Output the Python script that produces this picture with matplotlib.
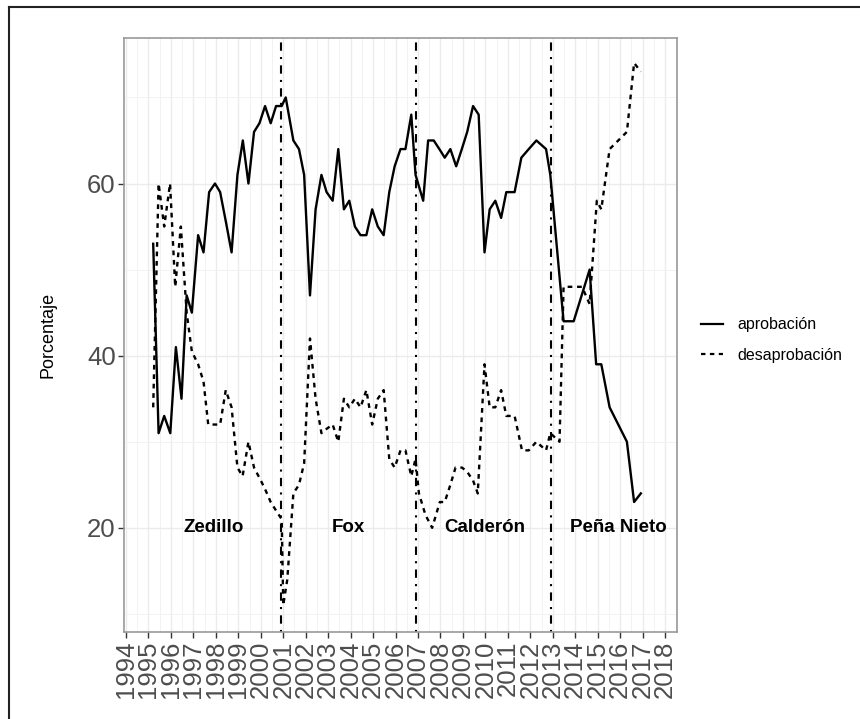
import numpy as np
import matplotlib.pyplot as plt
from matplotlib.lines import Line2D

plt.rcParams['font.family'] = ['Liberation Sans', 'DejaVu Sans']

# fechas en años decimales
fecha_apr = [1995.21, 1995.45, 1995.70, 1995.97, 1996.22, 1996.47, 1996.70, 1996.93,
             1997.21, 1997.45, 1997.70, 1997.96, 1998.19, 1998.45, 1998.70, 1998.96,
             1999.20, 1999.45, 1999.70, 1999.94, 2000.19, 2000.44, 2000.68, 2000.93,
             2001.11, 2001.45, 2001.70, 2001.93, 2002.19, 2002.44, 2002.70, 2002.93,
             2003.20, 2003.45, 2003.70, 2003.94, 2004.19, 2004.44, 2004.70, 2004.96,
             2005.21, 2005.47, 2005.72, 2005.96, 2006.22, 2006.44, 2006.70, 2006.89,
             2007.23, 2007.45, 2007.70, 2007.95, 2008.19, 2008.44, 2008.70, 2008.95,
             2009.19, 2009.45, 2009.70, 2009.96, 2010.19, 2010.44, 2010.70, 2010.93,
             2011.30, 2011.60, 2011.93, 2012.27, 2012.70, 2012.89, 2013.48, 2013.93,
             2014.64, 2014.93, 2015.16, 2015.53, 2016.30, 2016.62, 2016.92]
aprobacion = [53, 31, 33, 31, 41, 35, 47, 45,
              54, 52, 59, 60, 59, 55.5, 52, 61,
              65, 60, 66, 67, 69, 67, 69, 69,
              70, 65, 64, 61, 47, 57, 61, 59,
              58, 64, 57, 58, 55, 54, 54, 57,
              55, 54, 59, 62, 64, 64, 68, 61,
              58, 65, 65, 64, 63, 64, 62, 64,
              66, 69, 68, 52, 57, 58, 56, 59,
              59, 63, 64, 65, 64, 61, 44, 44,
              50, 39, 39, 34, 30, 23, 24]

fecha_des = [1995.21, 1995.45, 1995.70, 1995.96, 1996.19, 1996.44, 1996.70, 1996.93,
             1997.21, 1997.45, 1997.66, 1997.93, 1998.19, 1998.44, 1998.70, 1998.96,
             1999.19, 1999.45, 1999.70, 2000.00, 2000.19, 2000.44, 2000.68, 2000.93,
             2001.00, 2001.18, 2001.45, 2001.70, 2001.93, 2002.19, 2002.44, 2002.70,
             2002.93, 2003.20, 2003.45, 2003.70, 2003.94, 2004.19, 2004.44, 2004.70,
             2004.96, 2005.21, 2005.47, 2005.72, 2005.96, 2006.22, 2006.44, 2006.70,
             2006.89, 2007.04, 2007.33, 2007.63, 2007.97, 2008.19, 2008.44, 2008.67,
             2008.96, 2009.19, 2009.45, 2009.66, 2009.96, 2010.19, 2010.44, 2010.70,
             2010.93, 2011.30, 2011.63, 2011.93, 2012.27, 2012.70, 2012.89, 2013.30,
             2013.48, 2013.93, 2014.30, 2014.64, 2014.96, 2015.16, 2015.53, 2016.30,
             2016.62, 2016.92]
desaprobacion = [34, 60, 55, 60, 48, 55, 45, 40.5,
                 39, 37, 32, 32, 32, 36, 34, 27,
                 26, 30, 27, 25.5, 24.5, 23, 22, 21,
                 11, 14, 24, 25, 27.5, 42, 35, 31,
                 31.5, 32, 30, 35, 34, 35, 34, 36,
                 32, 35, 36, 28, 27, 29, 29, 26,
                 28, 24, 21.5, 20, 23, 23, 25, 27,
                 27, 26.5, 25.5, 24, 39, 34, 34, 36,
                 33, 33, 29, 29, 30, 29, 31, 30,
                 48, 48, 48, 46, 58, 57, 64, 66,
                 74, 73]

cambios = [2000.92, 2006.92, 2012.92]
presidentes = ['Zedillo', 'Fox', 'Calderón', 'Peña Nieto']
pos_presidentes = [1997.9, 2003.9, 2009.95, 2015.9]
anios = list(range(1994, 2019))

fig = plt.figure(figsize=(8.6, 7.19), dpi=100)
ax = fig.add_axes([124 / 860, 0.121, 553 / 860, 0.8261])

# rejilla estilo theme_bw
for a in anios:
    ax.axvline(a, color='#ebebeb', lw=1.0, zorder=0)
    ax.axvline(a + 0.5, color='#f2f2f2', lw=0.7, zorder=0)
for v in [20, 40, 60]:
    ax.axhline(v, color='#ebebeb', lw=1.0, zorder=0)
for v in [10, 30, 50, 70]:
    ax.axhline(v, color='#f2f2f2', lw=0.7, zorder=0)

ax.plot(fecha_apr, aprobacion, color='black', lw=1.7, label='aprobación')
ax.plot(fecha_des, desaprobacion, color='black', lw=1.7, linestyle=(0, (2, 2)),
        label='desaprobación')

for c in cambios:
    ax.axvline(c, color='black', lw=1.5, linestyle=(0, (1, 3, 4, 3)))

for nombre, px in zip(presidentes, pos_presidentes):
    ax.text(px, 20, nombre, ha='center', va='center', fontsize=13.5,
            fontweight='bold')

ax.set_xlim(1993.91, 2018.53)
ax.set_ylim(7.9, 76.9)
ax.set_xticks(anios)
ax.set_xticklabels([str(a) for a in anios], rotation=90, fontsize=18.5,
                   color='#4d4d4d')
ax.set_yticks([20, 40, 60])
ax.set_yticklabels(['20', '40', '60'], fontsize=18.5, color='#4d4d4d')
ax.tick_params(axis='both', color='#333333', length=4, width=1, pad=2)
ax.set_ylabel('Porcentaje', fontsize=13, labelpad=22)
for s in ax.spines.values():
    s.set_color('#999999')
    s.set_linewidth(1.2)

handles = [Line2D([], [], color='black', lw=1.6),
           Line2D([], [], color='black', lw=1.6, linestyle=(0, (2, 2)))]
fig.legend(handles, ['aprobación', 'desaprobación'], loc='center left',
           bbox_to_anchor=(0.798, 0.527), frameon=False, fontsize=11.5,
           handlelength=1.4, handletextpad=0.9, labelspacing=1.0)

# marco exterior
fig.add_artist(Line2D([9 / 860, 1], [1 - 7 / 719, 1 - 7 / 719], color='#222222',
                      lw=1.5, transform=fig.transFigure))
fig.add_artist(Line2D([9 / 860, 9 / 860], [0, 1 - 7 / 719], color='#222222',
                      lw=1.5, transform=fig.transFigure))

fig.savefig('out.png', dpi=100)
